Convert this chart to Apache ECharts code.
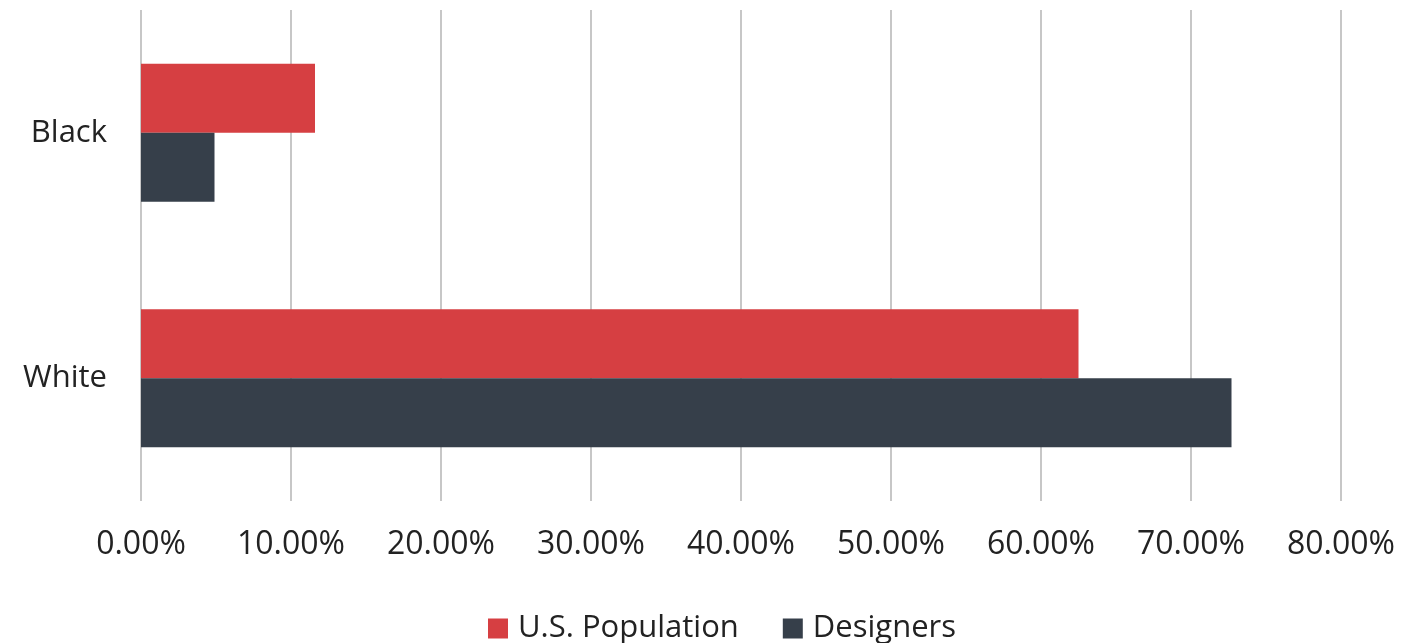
<!DOCTYPE html>
<html><head><meta charset="utf-8">
<script src="https://cdn.jsdelivr.net/npm/echarts@6/dist/echarts.min.js"></script>
<style>html,body{margin:0;padding:0;background:#fff}#c{width:1401px;height:643px}</style>
</head><body><div id="c"></div>
<script>
const categories = ['Black', 'White'];
const seriesNames = ['U.S. Population', 'Designers'];
const usPopulation = [11.6, 62.5];
const designers = [4.9, 72.7];
const tickValues = [0, 10, 20, 30, 40, 50, 60, 70, 80];

const chart = echarts.init(document.getElementById('c'));
const font = 'Open Sans';
chart.setOption({
  animation: false,
  textStyle: { fontFamily: font },
  grid: { left: 141, right: 60, top: 10, bottom: 142, containLabel: false },
  legend: {
    bottom: -6, left: 483,
    itemWidth: 20, itemHeight: 20, itemGap: 44,
    icon: 'rect',
    textStyle: { fontSize: 31, color: '#222', fontFamily: font, padding: [0, 0, 0, 5] },
    data: seriesNames
  },
  xAxis: {
    type: 'value', min: 0, max: 80, interval: 10,
    axisLine: { show: false }, axisTick: { show: false },
    splitLine: { show: true, lineStyle: { color: '#b4b4b4', width: 1.5 } },
    axisLabel: { fontSize: 32, color: '#222', margin: 28, formatter: v => v.toFixed(2) + '%' }
  },
  yAxis: {
    type: 'category', data: categories, inverse: true,
    axisLine: { show: false }, axisTick: { show: false },
    axisLabel: { fontSize: 31, color: '#222', margin: 34 }
  },
  series: [
    { name: seriesNames[0], type: 'bar', data: usPopulation, barWidth: 69, barGap: '0%',
      itemStyle: { color: '#D63F42' } },
    { name: seriesNames[1], type: 'bar', data: designers, barWidth: 69, barGap: '0%',
      itemStyle: { color: '#363F4A' } }
  ]
});
</script></body></html>
